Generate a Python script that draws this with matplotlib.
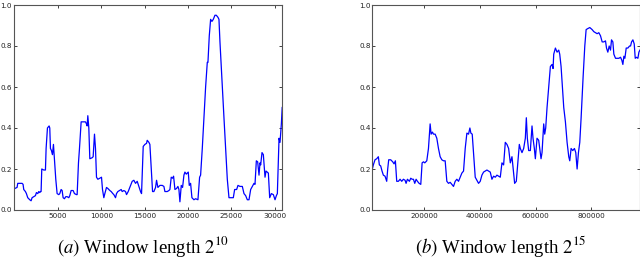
import numpy as np
import matplotlib
matplotlib.use("Agg")
import matplotlib.pyplot as plt

# panel (a): window length 2^10
x_a = [0, 262, 339, 840, 955, 1032, 1225, 1340, 1494, 1725, 1879, 1995, 2187, 2380,
       2495, 2649, 2765, 2880, 2957, 3034, 3111, 3342, 3535, 3612, 3766, 3958, 4035,
       4112, 4228, 4343, 4459, 4574, 4728, 4882, 5075, 5190, 5344, 5460, 5575, 5729,
       5883, 6037, 6230, 6345, 6499, 6730, 6884, 7115, 7192, 7346, 7462, 7654, 7885,
       8155, 8270, 8347, 8424, 8540, 8655, 8924, 9040, 9194, 9310, 9425, 9579, 9810,
       10003, 10118, 10272, 10388, 10580, 10734, 10965, 11119, 11312, 11427, 11620,
       11735, 11889, 12082, 12274, 12390, 12582, 12775, 12890, 13083, 13352, 13545,
       13737, 13930, 14122, 14276, 14507, 14623, 14815, 15008, 15200, 15277, 15470,
       15585, 15739, 15893, 16047, 16240, 16355, 16509, 16740, 17010, 17202, 17318,
       17587, 17780, 17895, 18049, 18203, 18319, 18473, 18665, 18819, 18935, 19050,
       19204, 19358, 19512, 19628, 19782, 20013, 20128, 20282, 20436, 20667, 20860,
       21129, 21322, 21437, 21630, 21822, 22015, 22207, 22284, 22438, 22592, 22746,
       22900, 23093, 23247, 23439, 23555, 23670, 23940, 24132, 24325, 24517, 24710,
       24902, 25210, 25364, 25595, 25749, 25980, 26250, 26442, 26635, 26827, 27020,
       27212, 27405, 27597, 27713, 27867, 28021, 28175, 28290, 28367, 28521, 28675,
       28868, 28983, 29253, 29407, 29599, 29830, 30023, 30177, 30292, 30485, 30600,
       30754, 30850]
y_a = [0.105, 0.11, 0.13, 0.13, 0.125, 0.10, 0.09, 0.08, 0.06, 0.05, 0.045, 0.06,
       0.065, 0.07, 0.085, 0.08, 0.09, 0.085, 0.09, 0.09, 0.20, 0.195, 0.195, 0.30,
       0.40, 0.41, 0.40, 0.30, 0.29, 0.27, 0.32, 0.25, 0.15, 0.08, 0.075, 0.08, 0.10,
       0.095, 0.06, 0.055, 0.065, 0.065, 0.06, 0.07, 0.095, 0.095, 0.08, 0.075, 0.075,
       0.23, 0.30, 0.43, 0.43, 0.43, 0.42, 0.41, 0.46, 0.40, 0.25, 0.255, 0.26, 0.37,
       0.30, 0.16, 0.15, 0.155, 0.16, 0.10, 0.06, 0.08, 0.11, 0.105, 0.095, 0.09, 0.08,
       0.075, 0.06, 0.08, 0.09, 0.095, 0.10, 0.09, 0.095, 0.09, 0.075, 0.09, 0.12,
       0.14, 0.145, 0.13, 0.14, 0.12, 0.09, 0.08, 0.31, 0.32, 0.325, 0.34, 0.33, 0.32,
       0.20, 0.09, 0.09, 0.11, 0.145, 0.11, 0.12, 0.12, 0.115, 0.09, 0.09, 0.095, 0.10,
       0.16, 0.155, 0.165, 0.10, 0.105, 0.115, 0.10, 0.04, 0.12, 0.11, 0.17, 0.185,
       0.175, 0.185, 0.12, 0.13, 0.06, 0.05, 0.055, 0.05, 0.16, 0.17, 0.30, 0.45, 0.60,
       0.72, 0.72, 0.85, 0.93, 0.92, 0.93, 0.95, 0.95, 0.94, 0.93, 0.82, 0.60, 0.45,
       0.30, 0.15, 0.06, 0.06, 0.06, 0.10, 0.10, 0.12, 0.115, 0.115, 0.08, 0.07, 0.05,
       0.05, 0.10, 0.115, 0.13, 0.125, 0.24, 0.235, 0.17, 0.23, 0.22, 0.28, 0.27, 0.16,
       0.19, 0.18, 0.06, 0.08, 0.075, 0.05, 0.07, 0.08, 0.35, 0.33, 0.42, 0.50]

# panel (b): window length 2^15
x_b = [12745, 16351, 22361, 28370, 34380, 37986, 42793, 47601, 52408, 58418, 64427,
       68033, 71638, 78850, 86061, 90869, 95676, 100484, 106494, 112503, 118513,
       124522, 130532, 134137, 138945, 146156, 150964, 155771, 160579, 165387, 170194,
       175002, 181011, 187021, 191829, 196636, 201444, 208655, 214665, 220674, 224280,
       229088, 232693, 238703, 244712, 250722, 256731, 262741, 268750, 274760, 280769,
       286779, 292788, 298798, 304807, 310817, 316826, 322836, 328845, 334855, 340864,
       346874, 352883, 358893, 363700, 367306, 372114, 376921, 382931, 388940, 394950,
       400959, 406969, 412978, 418988, 424997, 431007, 437016, 443026, 449035, 455045,
       461054, 467064, 473073, 479083, 485092, 491102, 497111, 503121, 509130, 515140,
       521149, 524755, 530765, 535572, 541582, 545187, 551197, 557206, 563216, 566821,
       570427, 575234, 581244, 587253, 590859, 595666, 599272, 605282, 611291, 614897,
       619704, 623310, 629320, 632925, 636531, 641339, 647348, 653358, 659367, 662973,
       665377, 671386, 677396, 683405, 687011, 691819, 696626, 701434, 707443, 713453,
       719462, 723068, 727876, 733885, 739895, 744702, 749510, 754318, 759125, 763933,
       771144, 777154, 781961, 787971, 795182, 803596, 809605, 815615, 821624, 827634,
       833643, 839653, 845662, 851672, 855277, 860085, 864892, 869700, 873306, 878113,
       881719, 887729, 893738, 899748, 905757, 910565, 914170, 917776, 921382, 926189,
       932199, 938208, 941814, 945420, 950227, 955035, 958640, 963448, 968255, 971861,
       975467]
y_b = [0.20, 0.22, 0.245, 0.25, 0.26, 0.22, 0.215, 0.19, 0.17, 0.165, 0.14, 0.20,
       0.245, 0.245, 0.235, 0.225, 0.24, 0.14, 0.14, 0.15, 0.14, 0.15, 0.145, 0.13,
       0.15, 0.14, 0.155, 0.15, 0.15, 0.13, 0.15, 0.14, 0.13, 0.125, 0.23, 0.235, 0.23,
       0.24, 0.30, 0.42, 0.37, 0.38, 0.37, 0.37, 0.35, 0.30, 0.26, 0.245, 0.24, 0.24,
       0.14, 0.13, 0.135, 0.125, 0.115, 0.14, 0.15, 0.14, 0.16, 0.18, 0.19, 0.30, 0.375,
       0.37, 0.40, 0.375, 0.37, 0.28, 0.16, 0.145, 0.13, 0.14, 0.17, 0.185, 0.19, 0.195,
       0.19, 0.185, 0.15, 0.165, 0.16, 0.17, 0.165, 0.16, 0.23, 0.22, 0.33, 0.32, 0.30,
       0.23, 0.26, 0.18, 0.13, 0.14, 0.22, 0.32, 0.30, 0.28, 0.30, 0.35, 0.45, 0.35,
       0.29, 0.29, 0.41, 0.35, 0.30, 0.25, 0.35, 0.34, 0.30, 0.25, 0.28, 0.42, 0.37,
       0.40, 0.50, 0.60, 0.70, 0.71, 0.69, 0.76, 0.79, 0.77, 0.78, 0.76, 0.70, 0.60,
       0.50, 0.43, 0.33, 0.26, 0.24, 0.30, 0.29, 0.30, 0.28, 0.20, 0.28, 0.33, 0.45,
       0.65, 0.80, 0.88, 0.885, 0.89, 0.88, 0.87, 0.865, 0.86, 0.865, 0.85, 0.82, 0.82,
       0.825, 0.79, 0.77, 0.80, 0.78, 0.83, 0.82, 0.76, 0.74, 0.74, 0.74, 0.745, 0.73,
       0.71, 0.75, 0.74, 0.79, 0.79, 0.80, 0.80, 0.82, 0.83, 0.81, 0.74, 0.745, 0.74,
       0.77, 0.78]

captions = [r"$(a)$ Window length $2^{10}$", r"$(b)$ Window length $2^{15}$"]
yticks = [0.0, 0.2, 0.4, 0.6, 0.8, 1.0]

plt.rcParams['mathtext.fontset'] = 'stix'

W, H = 640, 265
fig = plt.figure(figsize=(W / 100, H / 100), dpi=100)

boxes = [(13.5, 281.5), (372.3, 639.5)]
top, bottom = 5, 210
panels = [(x_a, y_a, (-150, 30770), [5000, 10000, 15000, 20000, 25000, 30000]),
          (x_b, y_b, (12600, 974000), [200000, 400000, 600000, 800000])]

for (l, r), (xs, ys, xlim, xt), cap in zip(boxes, panels, captions):
    ax = fig.add_axes([l / W, (H - bottom) / H, (r - l) / W, (bottom - top) / H])
    ax.plot(xs, ys, color='#0000ff', lw=0.9)
    ax.set_xlim(*xlim)
    ax.set_ylim(0, 1)
    ax.set_xticks(xt)
    ax.set_yticks(yticks)
    ax.set_yticklabels([f"{v:.1f}" for v in yticks])
    ax.tick_params(direction='in', top=True, right=True, length=2.5, width=0.6,
                   labelsize=5.2, pad=2, colors='#222222')
    ax.tick_params(axis='y', pad=1.2)
    for s in ax.spines.values():
        s.set_linewidth(0.8)
        s.set_color('#555555')
    fig.text(((l + r) / 2 - 5) / W, 1 - 253 / H, cap, ha='center', va='baseline',
             fontsize=13.5, family='Liberation Serif')

fig.savefig("out.png", dpi=100)
